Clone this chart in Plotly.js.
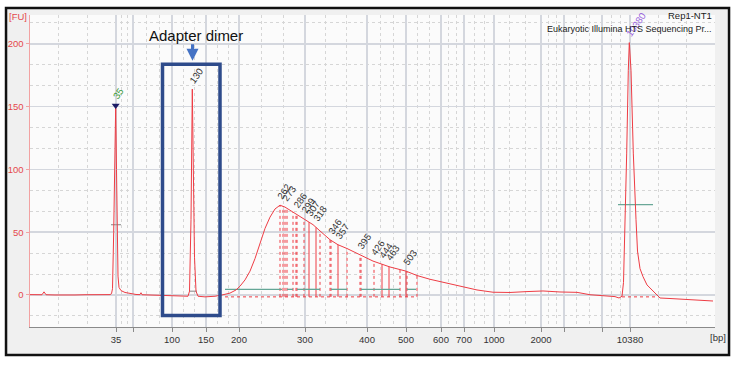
<!DOCTYPE html>
<html>
<head>
<meta charset="utf-8">
<script src="https://cdn.plot.ly/plotly-3.0.1.min.js"></script>
<style>html,body{margin:0;padding:0;background:#fff;}#chart{width:736px;height:367px;}</style>
</head>
<body>
<div id="chart"></div>
<script>
// Electropherogram trace: migration time (s) vs fluorescence [FU]
const migTime = [20.0,20.6,21.2,21.4,21.6,22.5,23.5,24.5,25.5,26.5,27.5,28.0,28.15,28.25,28.37,28.46,28.57,28.65,28.73,28.8,28.9,29.1,29.5,30.0,30.6,31.0,31.1,31.2,32.0,33.0,34.2,35.2,35.8,35.95,36.1,36.23,36.35,36.45,36.6,36.8,37.5,38.5,39.2,40.0,40.6,41.0,41.5,42.0,42.5,43.0,43.5,44.0,44.5,45.0,45.5,46.0,46.7,47.5,48.3,49.0,50.0,50.8,51.7,53.0,54.3,55.2,56.0,57.6,58.7,60.0,61.7,63.0,64.7,66.3,68.0,69.7,71.3,73.0,74.7,76.0,77.3,78.5,78.9,79.2,79.35,79.5,79.67,79.83,79.93,80.1,80.33,80.6,80.75,81.0,81.3,81.7,82.2,82.7,83.0,84.0,84.7,86.3,87.5,88.3];
const fluor = [0.3,0,0.2,2.5,0.2,0,0.3,0,0.2,0,0.2,0.3,1,5,50,105,151,100,50,15,6,3.5,2,1,0.4,0.3,1.8,0.2,0,-0.5,-1,-1.2,-1,3,60,164,90,30,3,-1,-1.5,-1,0,1.5,4,7,12,19,29,41,53,62,68.5,71.5,70,67.5,64,60,56,51,44,40,37,32,27,24.5,22.3,19,15.5,12.5,9.5,6.8,4,2.2,2.0,2.7,3.2,2.4,2.1,0.2,-0.8,-1.3,-2.4,-1,10,55,113,179,201,179,113,60,35,21,14.6,8,4,0,-2.4,-2.8,-3.2,-4,-4.3,-4.8];

// Ladder (size standard) positions on the time axis and their bp labels
const ladderTime = [28.6,30.3,34.2,37.6,40.9,47.5,53.7,57.6,61.1,63.4,66.4,71.1,73.4,77.2,80.0];
const ladderLabel = ["35","","100","150","200","300","400","500","600","700","1000","2000","","","10380"];

// Called peaks
const peakLabel = ["35","130","262","273","286","299","307","318","346","357","395","426","444","463","503","10380"];
const peakTime  = [28.57,36.23,45.0,45.5,46.6,47.4,47.9,48.6,50.1,50.8,53.0,54.4,55.2,55.9,57.6,79.93];
const peakSolid = [false,false,false,false,false,false,true,true,false,true,false,false,true,true,true,false];
const peakLineShown = [false,false,true,true,true,true,true,true,true,true,true,true,true,true,true,false];

// Region / integration boundaries in the smear
const boundTime = [45.3,45.7,46.3,46.7,49.0,50.0,51.7,53.1,57.0,57.7,58.7];
const regionStart = [39.5,45.7,46.7,50.1,53.1,57.7];
const regionEnd   = [45.2,46.3,49.0,51.7,57.0,58.6];
const regionLevel = 4.5;
const baselineStart = [39.5,79.2];
const baselineEnd   = [58.7,82.6];
const baselineLevel = -1.5;

// Peak width markers
const widthStart = [28.1,35.9,78.8];
const widthEnd   = [29.1,36.7,82.3];
const widthLevel = [56,3,72];
const widthColor = ["#a0a0a0","#a0a0a0","#6aa898"];

function interp(t){
  for(let i=0;i<migTime.length-1;i++){
    if(t>=migTime[i] && t<=migTime[i+1]){
      const f=(t-migTime[i])/(migTime[i+1]-migTime[i]);
      return fluor[i]+f*(fluor[i+1]-fluor[i]);
    }
  }
  return 0;
}

const RED = "#ee3c44";
const traces = [];

// minor grid positions: thirds between consecutive major positions
const xStart = 20, xEnd = 88.5;
const majors = [xStart].concat(ladderTime).concat([xEnd]);
const minorX = [];
for(let i=0;i<majors.length-1;i++){
  const a=majors[i], b=majors[i+1];
  minorX.push(a+(b-a)/3, a+2*(b-a)/3);
}

// dotted/solid vertical lines
function vlines(times, dash){
  const xs=[], ys=[];
  times.forEach(t=>{ xs.push(t,t,null); ys.push(baselineLevel, interp(t), null); });
  return {x:xs,y:ys,mode:"lines",line:{color:RED,width:1,dash:dash},hoverinfo:"skip",showlegend:false};
}
traces.push(vlines(boundTime,"dot"));
traces.push(vlines(peakTime.filter((t,i)=>peakLineShown[i] && !peakSolid[i]),"dot"));
traces.push(vlines(peakTime.filter((t,i)=>peakLineShown[i] && peakSolid[i]),"solid"));

// dotted baselines
(function(){
  const xs=[],ys=[];
  baselineStart.forEach((s,i)=>{xs.push(s,baselineEnd[i],null);ys.push(baselineLevel,baselineLevel,null);});
  traces.push({x:xs,y:ys,mode:"lines",line:{color:RED,width:1,dash:"dot"},hoverinfo:"skip",showlegend:false});
})();

// green region bars
(function(){
  const xs=[],ys=[];
  regionStart.forEach((s,i)=>{xs.push(s,regionEnd[i],null);ys.push(regionLevel,regionLevel,null);});
  traces.push({x:xs,y:ys,mode:"lines",line:{color:"#64a696",width:1.3},hoverinfo:"skip",showlegend:false});
})();

// width markers
widthStart.forEach((s,i)=>{
  traces.push({x:[s,widthEnd[i]],y:[widthLevel[i],widthLevel[i]],mode:"lines",line:{color:widthColor[i],width:1.3},hoverinfo:"skip",showlegend:false});
});

// main trace
traces.push({x:migTime,y:fluor,mode:"lines",line:{color:RED,width:1},hoverinfo:"skip",showlegend:false});

// lower marker triangle on first peak
traces.push({x:[peakTime[0]],y:[interp(peakTime[0])],mode:"markers",marker:{symbol:"triangle-down",size:7,color:"#1c1c66"},hoverinfo:"skip",showlegend:false});

// peak labels
const annotations = peakLabel.map((lab,i)=>{
  let col="#333333";
  if(lab==="35") col="#3a9a3a";
  if(lab==="10380") col="#9a66dd";
  return {x:peakTime[i],y:interp(peakTime[i])+1,xref:"x",yref:"y",text:lab,showarrow:false,
    textangle:-55,xanchor:"left",yanchor:"bottom",xshift:-8,font:{family:"Liberation Sans",size:9.5,color:col}};
});

annotations.push(
  {xref:"paper",yref:"paper",x:-0.033,y:0.995,xanchor:"left",yanchor:"middle",text:"[FU]",showarrow:false,font:{family:"Liberation Sans",size:9.5,color:"#e5484d"}},
  {xref:"paper",yref:"paper",x:0.99,y:-0.035,xanchor:"left",yanchor:"middle",text:"[bp]",showarrow:false,font:{family:"Liberation Sans",size:9.5,color:"#333"}},
  {xref:"paper",yref:"paper",x:0.998,y:1.0,xanchor:"right",yanchor:"middle",text:"Rep1-NT1",showarrow:false,font:{family:"Liberation Sans",size:9.5,color:"#222"}},
  {xref:"paper",yref:"paper",x:0.998,y:0.955,xanchor:"right",yanchor:"middle",text:"Eukaryotic Illumina HTS Sequencing Pr...",showarrow:false,font:{family:"Liberation Sans",size:9,color:"#222"}},
  {xref:"x",yref:"y",x:36.6,y:207,xanchor:"center",yanchor:"middle",text:"Adapter dimer",showarrow:false,font:{family:"Liberation Sans",size:15,color:"#111"}},
  {xref:"x",yref:"y",x:36.25,y:186.5,ax:0,ay:-18,showarrow:true,arrowhead:2,arrowsize:0.8,arrowwidth:3,arrowcolor:"#4472c4",text:""}
);

const layout = {
  width:736,height:367,
  margin:{l:30,r:21,t:15,b:40,pad:0},
  paper_bgcolor:"#ffffff",
  plot_bgcolor:"rgba(0,0,0,0)",
  showlegend:false,
  xaxis:{
    range:[xStart,xEnd],
    tickmode:"array",tickvals:ladderTime,ticktext:ladderLabel,
    showgrid:true,gridcolor:"#d4d7de",gridwidth:1.5,
    showline:true,linecolor:"#8a8a8a",linewidth:1,
    ticks:"outside",ticklen:4,tickcolor:"#8a8a8a",
    tickfont:{family:"Liberation Sans",size:9.5,color:"#333"},
    zeroline:false,
    minor:{tickmode:"array",tickvals:minorX,showgrid:true,gridcolor:"#d6d6d6",griddash:"dot",gridwidth:1,ticks:""}
  },
  yaxis:{
    range:[-25.5,223],
    tickmode:"array",tickvals:[0,50,100,150,200],
    showgrid:true,gridcolor:"#d4d7de",gridwidth:1.5,
    showline:true,linecolor:"#f2a2a2",linewidth:1.5,
    ticks:"outside",ticklen:3,tickcolor:"#f2a2a2",
    tickfont:{family:"Liberation Sans",size:9.5,color:"#e5484d"},
    zeroline:false,
    minor:{tick0:0,dtick:50/3,showgrid:true,gridcolor:"#d6d6d6",griddash:"dot",gridwidth:1,ticks:""}
  },
  shapes:[
    {type:"rect",xref:"paper",yref:"paper",x0:-0.035,x1:1.0205,y0:-0.0897,y1:1.0225,
     fillcolor:"#f0f0f0",line:{color:"#111",width:2.5},layer:"below"},
    {type:"rect",xref:"paper",yref:"paper",x0:0,x1:1,y0:0,y1:1,
     fillcolor:"#fbfbfb",line:{width:0},layer:"below"},
    {type:"rect",xref:"x",yref:"y",x0:33.25,x1:39.0,y0:-16.3,y1:183.7,
     line:{color:"#2e4b8b",width:3.5},fillcolor:"rgba(0,0,0,0)",layer:"above"}
  ],
  annotations:annotations
};

Plotly.newPlot("chart",traces,layout,{staticPlot:true,displayModeBar:false});
</script>
</body>
</html>
